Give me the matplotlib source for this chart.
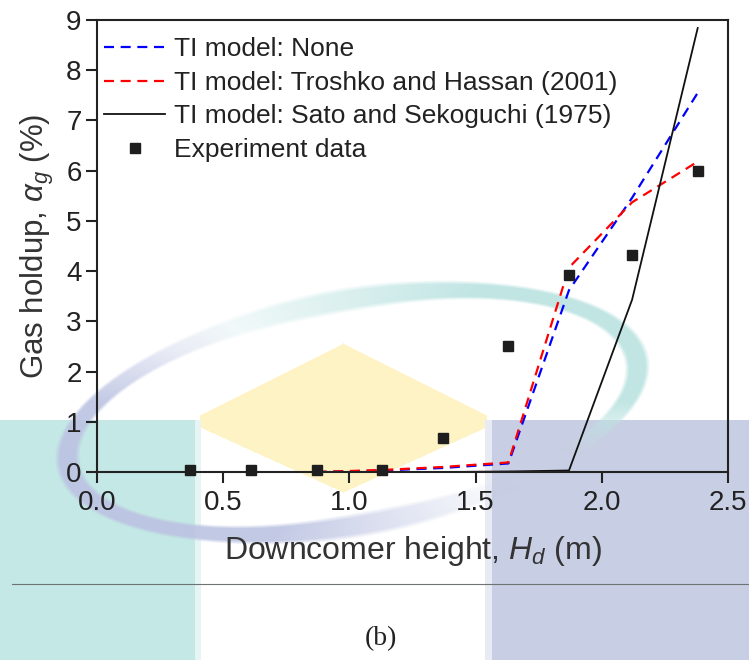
import matplotlib
matplotlib.use("Agg")
import matplotlib.pyplot as plt
import numpy as np

# ---------------- data ----------------
exp_x = [0.37, 0.61, 0.87, 1.13, 1.37, 1.63, 1.87, 2.12, 2.38]
exp_y = [0.03, 0.03, 0.03, 0.03, 0.68, 2.50, 3.92, 4.33, 6.00]

sim_x = [0.87, 1.13, 1.37, 1.63, 1.87, 2.12, 2.38]
none_y = [0.00, 0.03, 0.08, 0.17, 3.62, 5.46, 7.55]
troshko_y = [0.00, 0.04, 0.10, 0.19, 4.07, 5.37, 6.18]
sato_y = [0.00, 0.00, 0.00, 0.01, 0.03, 3.43, 8.84]

labels = ["TI model: None", "TI model: Troshko and Hassan (2001)",
          "TI model: Sato and Sekoguchi (1975)", "Experiment data"]
x_ticks = [0.0, 0.5, 1.0, 1.5, 2.0, 2.5]
y_ticks = [0, 1, 2, 3, 4, 5, 6, 7, 8, 9]

# ---------------- figure ----------------
plt.rcParams['font.family'] = ['Liberation Sans', 'DejaVu Sans']
plt.rcParams['mathtext.fontset'] = 'custom'
plt.rcParams['mathtext.rm'] = 'Liberation Sans'
plt.rcParams['mathtext.it'] = 'Liberation Sans:italic'

W, H = 749, 660
fig = plt.figure(figsize=(W / 100, H / 100), dpi=100, facecolor='white')

# ---------------- watermark background (raster) ----------------
yy, xx = np.mgrid[0:H, 0:W].astype(float)
img = np.ones((H, W, 3))

def paint(mask_alpha, color):
    c = np.array(matplotlib.colors.to_rgb(color))
    a = mask_alpha[..., None]
    img[:] = img * (1 - a) + c * a

# yellow diamond
dx = np.abs(xx - 343) / 143.0
dy_top = (343 + 72 - yy) / 72.0
dy_bot = (yy - 415 - 12) / 65.0
dia = np.where(yy < 415, dx + np.clip(dy_top, 0, None) <= 1.0,
               np.where(yy < 427, dx <= 1.0, dx + np.clip(dy_bot, 0, None) <= 1.0))
paint(dia.astype(float) * 0.95, '#fdf3c2')

# rectangles
paint(((xx < 195) & (yy >= 420)).astype(float), '#c4e8e5')
paint(((xx >= 195) & (xx < 201) & (yy >= 420)).astype(float), '#e6f5f4')
paint(((xx >= 492) & (yy >= 420)).astype(float), '#c8cee3')
paint(((xx >= 485) & (xx < 492) & (yy >= 420)).astype(float), '#e9ebf4')

# ellipse ring
cx, cy, a_, b_, ang = 352.0, 412.0, 289.0, 112.0, np.deg2rad(10.5)
X = xx - cx
Y = cy - yy
u = X * np.cos(ang) + Y * np.sin(ang)
v = -X * np.sin(ang) + Y * np.cos(ang)
r = np.sqrt((u / a_) ** 2 + (v / b_) ** 2)
rho = np.sqrt(u ** 2 + v ** 2) / np.maximum(r, 1e-6)
d = np.where(r > 0.5, (r - 1.0) * rho, 1e3)
phi = np.degrees(np.arctan2(v / b_, u / a_)) % 360
width_a = np.clip((13.0 - np.abs(d)) / 5.0, 0, 1)

def band(p, lo, full0, full1, hi):
    out = np.zeros_like(p)
    out = np.where((p >= lo) & (p < full0), (p - lo) / (full0 - lo), out)
    out = np.where((p >= full0) & (p <= full1), 1.0, out)
    out = np.where((p > full1) & (p <= hi), (hi - p) / (hi - full1), out)
    return out

phi_t = np.where(phi > 200, phi - 360, phi)
teal_a = band(phi_t, -45, -20, 60, 125) * width_a * 0.95
lav_a = band(phi, 110, 150, 250, 300) * width_a * 0.9
paint(teal_a, '#bde4e2')
paint(lav_a, '#bcc3e2')

fig.figimage(img, 0, 0, origin='upper', zorder=-10)

# separator line and caption
fig.add_artist(plt.Line2D([12 / W, 1.0], [1 - 584 / H, 1 - 584 / H],
                          transform=fig.transFigure, color='#6e7474', lw=0.8, zorder=-2))
fig.text(381 / W, 1 - 639 / H, "(b)", fontfamily='Liberation Serif', fontsize=20,
         ha='center', va='center', color='#222222')

# ---------------- axes ----------------
ax = fig.add_axes([97 / W, 1 - 472 / H, (728 - 97) / W, (472 - 20) / H])
ax.patch.set_alpha(0)

ax.plot(sim_x, none_y, color='#0000ff', lw=1.6, ls=(0, (4.5, 3)), label=labels[0])
ax.plot(sim_x, troshko_y, color='#ff0000', lw=1.6, ls=(0, (4.5, 3)), label=labels[1])
ax.plot(sim_x, sato_y, color='#111111', lw=1.3, label=labels[2])
ax.plot(exp_x, exp_y, ls='none', marker='s', ms=7, color='#1e1e1e', label=labels[3],
        clip_on=False, zorder=5)

ax.set_xlim(0, 2.5)
ax.set_ylim(0, 9)
ax.set_xticks(x_ticks)
ax.set_xticklabels([f"{v:.1f}" for v in x_ticks])
ax.set_yticks(y_ticks)
for s in ax.spines.values():
    s.set_linewidth(1.5)
    s.set_color('#222222')
ax.tick_params(axis='both', direction='out', length=8, width=1.5, labelsize=20,
               colors='#222222')
ax.tick_params(axis='y', pad=3)
ax.tick_params(axis='x', pad=5)
ax.tick_params(top=False, right=False)

ax.set_xlabel("Downcomer height, $H_d$ (m)", fontsize=23, color='#333333', labelpad=13)
ax.set_ylabel(r"Gas holdup, $\alpha_g$ (%)", fontsize=22.5, color='#333333', labelpad=7)

leg = ax.legend(loc='upper left', frameon=False, fontsize=19, handlelength=2.3,
                handletextpad=0.35, labelspacing=0.36, borderaxespad=0.0,
                bbox_to_anchor=(-0.005, 0.985))
for t in leg.get_texts():
    t.set_color('#222222')

fig.savefig("out.png", dpi=100, facecolor='white')
